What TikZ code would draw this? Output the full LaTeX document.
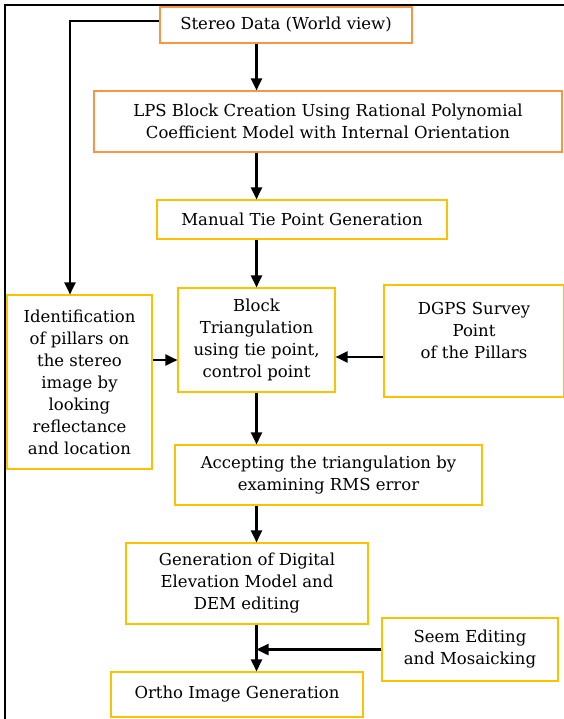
\documentclass[tikz,border=0pt]{standalone}
\usepackage{fontspec}
\setmainfont{DejaVu Serif}
\usepackage{tikz}
\usetikzlibrary{positioning,arrows.meta,calc}
\definecolor{boxorange}{HTML}{F79646}
\definecolor{boxgold}{HTML}{FFC000}
\tikzset{
  >={Triangle[length=12pt,width=11pt]},
}
\begin{document}
\begin{tikzpicture}[x=1pt, y=-1pt,
  box/.style={draw=boxgold, line width=1.1pt, fill=white, align=center, inner sep=0pt,
    font=\fontsize{16.5}{22}\selectfont},
  obox/.style={box, draw=boxorange},
  arr/.style={->, line width=2.4pt}
]
  \useasboundingbox (0,0) rectangle (563,719);
  % outer frame
  \draw[line width=1.6pt] (5,719) -- (5,5) -- (570,5);

  \node[obox, minimum width=252pt, minimum height=36pt] (stereo) at (286,25) {Stereo Data (World view)};
  \node[obox, minimum width=468pt, minimum height=61pt] (lps) at (328,121.5)
    {LPS Block Creation Using Rational Polynomial\\Coefficient Model with Internal Orientation};
  \node[box, minimum width=290pt, minimum height=39pt] (manual) at (302,219.5) {Manual Tie Point Generation};
  \node[box, minimum width=157pt, minimum height=104pt] (block) at (256.5,340)
    {Block\\Triangulation\\using tie point,\\control point};
  \node[box, minimum width=145pt, minimum height=174pt] (ident) at (79.5,382)
    {Identification\\of pillars on\\the stereo\\image by\\looking\\reflectance\\and location};
  \node[box, minimum width=180pt, minimum height=112pt] (dgps) at (474,341)
    {DGPS Survey\\Point\\of the Pillars\\ ~};
  \node[box, minimum width=307pt, minimum height=60pt] (accept) at (328.5,475)
    {Accepting the triangulation by\\examining RMS error};
  \node[box, minimum width=242pt, minimum height=81pt] (dem) at (247,583.5)
    {Generation of Digital\\Elevation Model and\\DEM editing};
  \node[box, minimum width=176pt, minimum height=63pt] (seem) at (470,649.5)
    {Seem Editing\\and Mosaicking};
  \node[box, minimum width=252pt, minimum height=45pt] (ortho) at (237,694.5) {Ortho Image Generation};

  \coordinate (bin) at ([yshift=-20pt]block.west);
  \coordinate (bdg) at ([yshift=-17pt]block.east);
  \coordinate (join) at (dem.south -| block);

  \draw[arr] (stereo.south -| block) -- (lps.north -| block);
  \draw[arr] (lps.south -| block) -- (manual.north -| block);
  \draw[arr] (manual.south -| block) -- (block.north);
  \draw[arr] ([yshift=4pt]stereo.west) -| (ident.north -| 70,0);
  \draw[arr] (ident.east |- bin) -- (bin);
  \draw[arr] (dgps.west |- bdg) -- (bdg);
  \draw[arr] (block.south) -- (accept.north -| block);
  \draw[arr] (accept.south -| block) -- (dem.north -| block);
  \draw[arr] (join) -- (ortho.north -| block);
  \draw[arr] (seem.west) -- (seem.west -| block);
\end{tikzpicture}
\end{document}
